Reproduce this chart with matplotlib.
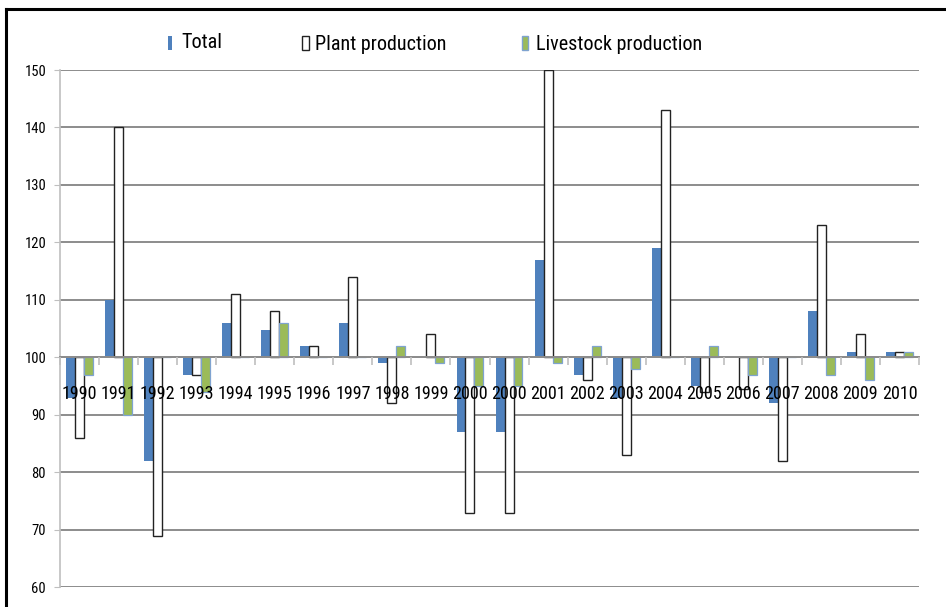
import os
import matplotlib
matplotlib.use("Agg")
import matplotlib.pyplot as plt
from matplotlib.patches import Rectangle
from matplotlib.lines import Line2D
from matplotlib import font_manager
from matplotlib.font_manager import FontProperties
import numpy as np

# Index values (base = 100)
years = ["1990", "1991", "1992", "1993", "1994", "1995", "1996", "1997", "1998",
         "1999", "2000", "2000", "2001", "2002", "2003", "2004", "2005", "2006",
         "2007", "2008", "2009", "2010"]
total = [93, 110, 82, 97, 106, 104.8, 102, 106, 99, 100, 87, 87, 117, 97, 93,
         119, 95, 100, 92, 108, 101, 101]
plant = [86, 140, 69, 96.9, 111, 108, 102, 114, 92, 104, 73, 73, 150, 96, 83,
         143, 94, 94.5, 82, 123, 104, 101]
livestock = [97, 90, 100, 94, 100, 106, 100, 100, 102, 99, 95, 95, 99, 102, 98,
             100, 102, 97, 100, 97, 96, 101]
series_names = ["Total", "Plant production", "Livestock production"]
y_ticks = [60, 70, 80, 90, 100, 110, 120, 130, 140, 150]
base = 100


def pick_narrow_font():
    """Return the path of a condensed sans-serif face, if one is installed."""
    files = [f.fname for f in font_manager.fontManager.ttflist]
    files += font_manager.findSystemFonts()
    wanted = ["liberationsansnarrow-regular", "robotocondensed-regular",
              "opensans_condensed-regular", "opensanscondensed-regular",
              "dejavusanscondensed."]
    for key in wanted:
        for path in files:
            if key in os.path.basename(path).lower().replace(" ", ""):
                return path
    return None


narrow_path = pick_narrow_font()


def fp(size):
    if narrow_path:
        return FontProperties(fname=narrow_path, size=size)
    return FontProperties(family="DejaVu Sans", stretch="condensed", size=size)


W, H = 946, 607
fig = plt.figure(figsize=(W / 100, H / 100), dpi=100)
fig.patch.set_facecolor("white")

left, right, top, bottom = 60, 919, 70, 587.3
ax = fig.add_axes([left / W, 1 - bottom / H, (right - left) / W, (bottom - top) / H])

blue = "#4F81BD"
green = "#9BBB59"
n = len(years)
x = np.arange(n)
w = 0.23

ax.bar(x - w, np.array(total) - base, w, bottom=base, color=blue,
       edgecolor="none", zorder=3)
ax.bar(x, np.array(plant) - base, w, bottom=base, color="white",
       edgecolor="#222222", linewidth=1.0, zorder=3)
ax.bar(x + w, np.array(livestock) - base, w, bottom=base, color=green,
       edgecolor="#7FA3D0", linewidth=0.9, zorder=3)

ax.set_xlim(-0.5, n - 0.5)
ax.set_ylim(60, 150)
ax.set_yticks(y_ticks)
ax.set_yticklabels([str(v) for v in y_ticks])
for lbl in ax.get_yticklabels():
    lbl.set_fontproperties(fp(10.5))
ax.yaxis.grid(True, color="#8C8C8C", linewidth=1.4, zorder=0)
ax.set_axisbelow(True)

for s in ["top", "right"]:
    ax.spines[s].set_visible(False)
ax.spines["left"].set_color("#BFBFBF")
ax.spines["left"].set_linewidth(1.2)
ax.spines["bottom"].set_position(("data", base))
ax.spines["bottom"].set_color("#8C8C8C")
ax.spines["bottom"].set_linewidth(1.4)
ax.spines["bottom"].set_zorder(4)

ax.tick_params(axis="y", length=4, color="#BFBFBF", pad=6, labelcolor="black")
ax.set_xticks(x)
ax.set_xticklabels(years)
for lbl in ax.get_xticklabels():
    lbl.set_fontproperties(fp(13))
ax.tick_params(axis="x", which="major", length=0, pad=20)
ax.set_xticks(np.arange(-0.5, n, 1.0), minor=True)
ax.tick_params(axis="x", which="minor", length=6, color="#BFBFBF", width=1.2,
               direction="out")
# year labels sit on top of the bars
ax.xaxis.set_zorder(5)


# Legend row
def fx(px):
    return px / W


def fy(py):
    return 1 - py / H


legend_items = [
    (168, 4, blue, "none", 181, 43),
    (302, 7, "white", "#222222", 315, 45),
    (522, 6, green, "#7FA3D0", 536, 44),
]
for (mx, mw, fc, ec, tx, ty), name in zip(legend_items, series_names):
    fig.add_artist(Rectangle((fx(mx), fy(50)), mw / W, 14 / H, transform=fig.transFigure,
                             facecolor=fc, edgecolor=ec, linewidth=1.0))
    fig.text(fx(tx), fy(ty), name, fontproperties=fp(14.5), va="center", ha="left")

# Outer border (top and left)
fig.add_artist(Line2D([fx(6), fx(W)], [fy(9), fy(9)], transform=fig.transFigure,
                      color="black", linewidth=2.2))
fig.add_artist(Line2D([fx(6), fx(6)], [fy(9), fy(H)], transform=fig.transFigure,
                      color="black", linewidth=2.2))

fig.savefig("out.png", dpi=100, facecolor="white")
